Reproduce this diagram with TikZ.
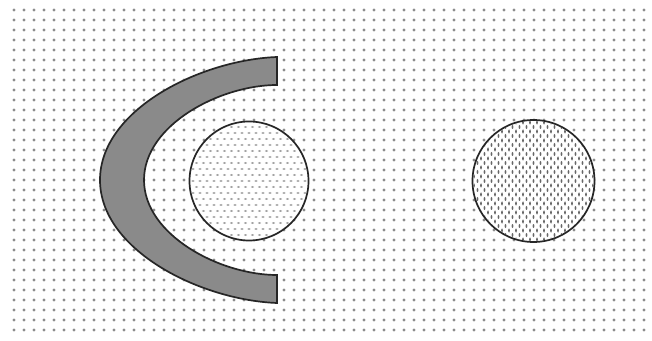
\documentclass[tikz,border=0pt]{standalone}
\tikzset{
  outline/.style={draw=black!85, line width=1.7pt},
  ringcircle/.style={circle, outline, inner sep=0pt, fill=white},
  bgdot/.style={fill=black!45},
  hdash/.style={fill=black!36},
  vdash/.style={fill=black!60}
}
\begin{document}
\begin{tikzpicture}[x=1pt,y=1pt]
\useasboundingbox (0,0) rectangle (652,340);
\fill[white] (0,0) rectangle (652,340);
% dotted background
\foreach \i in {0,...,63}{
  \foreach \j in {0,...,32}{
    \fill[bgdot] ({14+10*\i},{10+10*\j}) circle (1.7);
  }
}
% C-shaped band
\path[outline, fill=black!46, line join=miter]
  (277,283) .. controls (200,280) and (100,230) .. (100,160)
  .. controls (100,90) and (200,40) .. (277,37)
  -- (277,65) .. controls (220,65) and (144,105) .. (144,160)
  .. controls (144,215) and (220,255) .. (277,255)
  -- cycle;
% inner circle with horizontal dashes
\node[ringcircle, minimum size=119pt] (c1) at (249,159) {};
\begin{scope}
  \clip (c1.center) circle (58.5);
  \foreach \j in {-10,...,10}{
    \pgfmathsetmacro{\off}{3.5*mod(\j+20,2)}
    \foreach \i in {-9,...,9}{
      \fill[hdash] ({249+7*\i+\off},{159+6*\j}) ellipse (1.7 and 1.0);
    }
  }
\end{scope}
% right circle with vertical dashes
\node[ringcircle, minimum size=122pt] (c2) at (533.5,159) {};
\begin{scope}
  \clip (c2.center) circle (60);
  \foreach \j in {-14,...,14}{
    \pgfmathsetmacro{\off}{3.5*mod(\j+20,2)}
    \foreach \i in {-10,...,10}{
      \fill[vdash] ({533.5+7*\i+\off},{159+4.5*\j}) ellipse (0.85 and 2.0);
    }
  }
\end{scope}
\end{tikzpicture}
\end{document}
